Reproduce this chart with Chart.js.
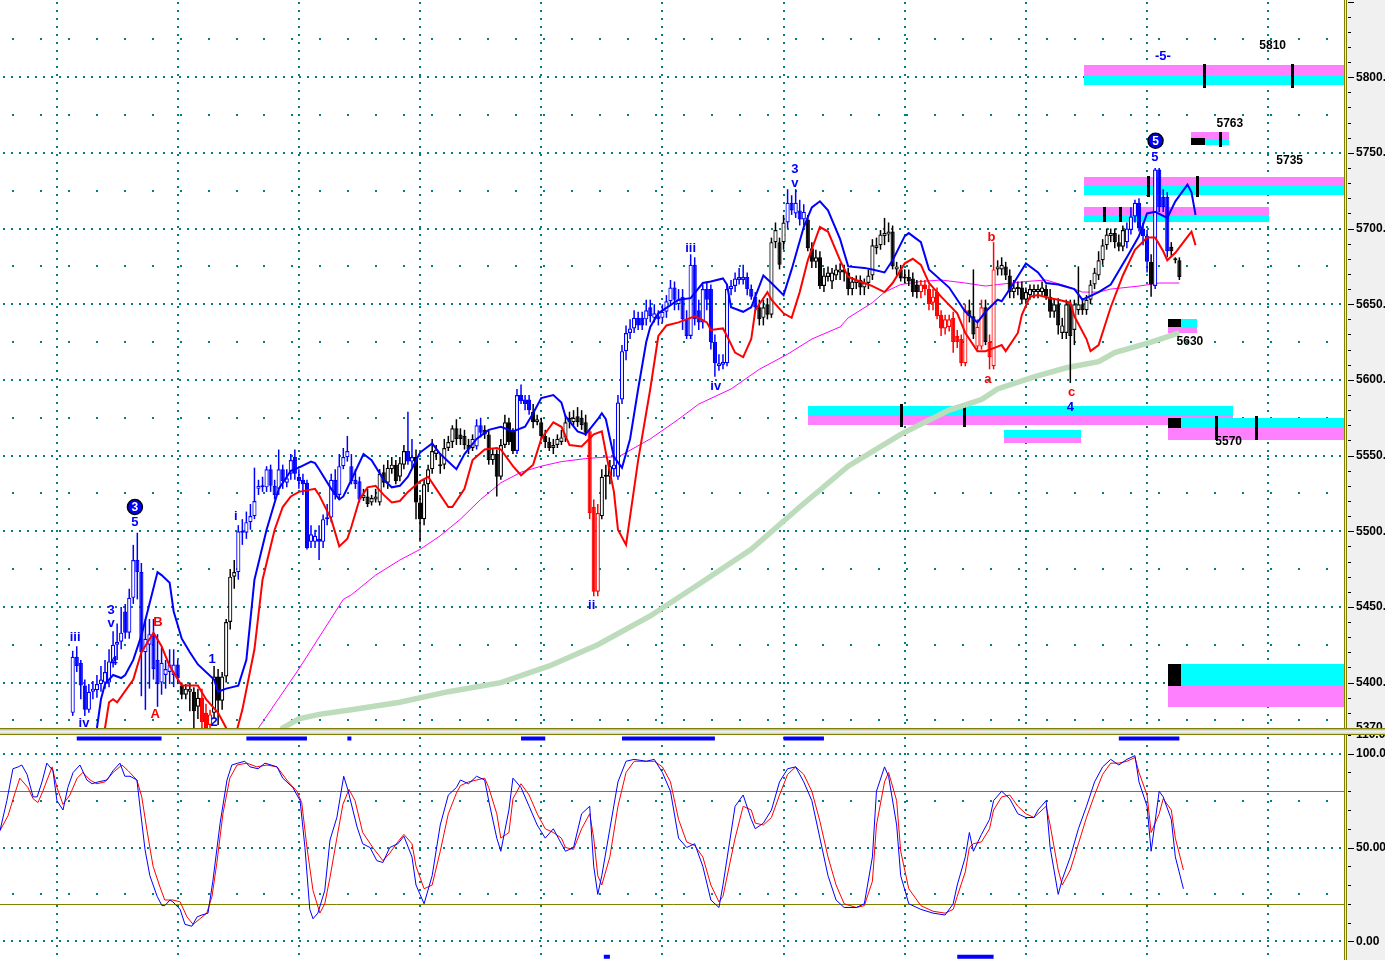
<!DOCTYPE html>
<html>
<head>
<meta charset="utf-8">
<script src="https://cdn.jsdelivr.net/npm/chart.js@4.4.1/dist/chart.umd.min.js"></script>
<style>
  html, body { margin: 0; padding: 0; background: #fff; overflow: hidden; }
  #wrap { position: relative; width: 1385px; height: 960px; }
  #priceChart { position: absolute; left: 0; top: 0; }
  #stochChart { position: absolute; left: 0; top: 735px; }
  .sep { position: absolute; left: 0; width: 1385px; }
</style>
</head>
<body>
<div id="wrap">
  <canvas id="priceChart" width="1385" height="728"></canvas>
  <div class="sep" style="top:728px;height:1px;background:#808000"></div>
  <div class="sep" style="top:729px;height:5px;background:linear-gradient(#a8a8a8,#f4f4f4 45%,#d0d0d0)"></div>
  <div class="sep" style="top:734px;height:1px;background:#808000"></div>
  <canvas id="stochChart" width="1385" height="225"></canvas>
</div>
<script>
// ---- price bars (first bar sits on slot 18, one slot per bar) ----
const FIRST_SLOT = 18;
const opens = [
  5380,5417,5413,5398,5382,5394,5395,5399,5400,5400, 5414,5425,5427,5447,5433,5456,5481,5473,5420,5425,
  5431,5415,5400,5405,5407,5405,5412,5398,5392,5394, 5394,5384,5390,5380,5372,5380,5404,5388,5404,5440,
  5470,5473,5499,5499,5506,5510,5528,5529,5529,5541, 5530,5528,5541,5532,5538,5549,5536,5534,5532,5493,
  5493,5495,5493,5508,5509,5534,5524,5543,5549,5543, 5534,5533,5522,5523,5519,5521,5519,5539,5532,5541,
  5544,5536,5544,5553,5546,5549,5519,5508,5531,5541, 5551,5544,5544,5555,5559,5568,5564,5563,5557,5555,
  5556,5570,5567,5564,5547,5551,5536,5557,5572,5566, 5553,5590,5587,5587,5579,5572,5572,5563,5559,5555,
  5557,5559,5562,5575,5572,5576,5575,5572,5566,5516, 5460,5510,5536,5536,5541,5536,5587,5619,5631,5634,
  5641,5641,5640,5648,5641,5642,5641,5645,5652,5661, 5650,5655,5640,5629,5676,5646,5638,5660,5660,5625,
  5609,5610,5611,5660,5662,5666,5666,5668,5660,5655, 5648,5641,5650,5643,5691,5691,5691,5704,5717,5710,
  5712,5706,5706,5687,5678,5681,5662,5668,5665,5669, 5671,5673,5671,5660,5664,5666,5661,5664,5669,5687,
  5689,5695,5696,5698,5673,5673,5667,5668,5667,5663, 5658,5663,5660,5651,5658,5643,5634,5635,5641,5629,
  5627,5611,5646,5642,5622,5622,5648,5625,5609,5673, 5673,5675,5669,5658,5660,5661,5653,5656,5658,5658,
  5658,5660,5655,5645,5650,5631,5631,5650,5633,5646, 5650,5646,5653,5663,5669,5679,5689,5695,5697,5691,
  5688,5691,5699,5708,5717,5700,5695,5678,5662,5739, 5721,5721,5688,5679,5679
];
const closes = [
  5417,5411,5398,5382,5394,5396,5399,5402,5407,5414, 5425,5427,5433,5433,5456,5481,5473,5420,5429,5432,
  5409,5399,5413,5409,5412,5412,5403,5392,5396,5396, 5381,5390,5374,5370,5379,5404,5388,5404,5440,5470,
  5473,5500,5500,5506,5510,5520,5530,5530,5541,5530, 5524,5541,5533,5535,5547,5538,5533,5531,5489,5498,
  5497,5493,5508,5509,5534,5524,5543,5549,5553,5533, 5531,5521,5524,5518,5522,5523,5538,5532,5542,5544,
  5533,5545,5553,5546,5549,5519,5508,5531,5541,5553, 5554,5543,5555,5559,5568,5561,5561,5557,5554,5561,
  5570,5565,5564,5547,5551,5536,5557,5572,5559,5553, 5590,5586,5584,5580,5572,5574,5563,5559,5555,5557,
  5561,5562,5572,5572,5575,5572,5570,5565,5512,5460, 5512,5536,5537,5543,5544,5585,5619,5631,5634,5641,
  5636,5636,5646,5642,5644,5640,5645,5652,5661,5653, 5653,5640,5629,5676,5640,5638,5660,5653,5625,5611,
  5611,5612,5660,5662,5667,5668,5668,5660,5655,5648, 5640,5648,5643,5691,5699,5676,5704,5717,5712,5717,
  5706,5711,5687,5678,5681,5662,5669,5671,5671,5673, 5673,5671,5660,5665,5666,5661,5664,5669,5689,5689,
  5696,5697,5698,5675,5675,5667,5668,5665,5658,5658, 5663,5660,5650,5655,5642,5634,5640,5640,5625,5625,
  5611,5646,5642,5630,5635,5648,5625,5615,5673,5675, 5676,5669,5658,5661,5661,5653,5658,5660,5660,5660,
  5661,5655,5645,5650,5636,5636,5650,5629,5650,5650, 5646,5653,5663,5671,5679,5689,5696,5697,5691,5688,
  5699,5700,5708,5717,5700,5695,5678,5663,5739,5714, 5714,5685,5685,5680,5668
];
const highs = [
  5421,5424,5415,5402,5399,5401,5405,5411,5415,5422, 5434,5439,5450,5452,5462,5491,5499,5479,5442,5442,
  5442,5432,5423,5415,5422,5422,5415,5400,5399,5400, 5397,5396,5396,5386,5382,5411,5409,5407,5442,5475,
  5481,5504,5508,5513,5518,5542,5534,5536,5543,5544, 5534,5554,5544,5541,5551,5554,5541,5538,5534,5504,
  5501,5504,5511,5518,5538,5541,5551,5555,5563,5551, 5541,5536,5528,5528,5524,5528,5541,5544,5547,5549,
  5547,5549,5557,5579,5561,5554,5524,5534,5544,5561, 5557,5551,5561,5563,5570,5574,5568,5567,5561,5564,
  5574,5575,5570,5567,5555,5554,5561,5577,5575,5568, 5594,5597,5590,5590,5584,5577,5575,5567,5562,5561,
  5564,5567,5577,5579,5580,5582,5580,5577,5568,5521, 5518,5541,5544,5547,5561,5590,5623,5636,5640,5646,
  5645,5645,5653,5653,5650,5646,5650,5656,5666,5665, 5660,5660,5646,5683,5681,5653,5663,5665,5663,5630,
  5617,5617,5663,5666,5671,5674,5676,5671,5663,5658, 5653,5653,5654,5694,5704,5694,5709,5726,5722,5726,
  5719,5716,5709,5691,5686,5685,5674,5675,5674,5676, 5677,5676,5674,5668,5669,5669,5667,5673,5693,5694,
  5699,5707,5704,5702,5678,5676,5673,5673,5671,5666, 5666,5666,5663,5660,5661,5646,5643,5643,5645,5633,
  5630,5650,5653,5673,5640,5653,5653,5630,5691,5679, 5681,5678,5673,5666,5665,5665,5661,5663,5663,5663,
  5665,5663,5660,5654,5654,5641,5653,5653,5653,5675, 5654,5656,5666,5674,5685,5693,5700,5700,5700,5696,
  5702,5704,5714,5719,5720,5704,5699,5683,5740,5740, 5726,5724,5691,5681,5681
];
const lows = [
  5378,5407,5389,5378,5380,5389,5390,5394,5396,5397, 5410,5415,5422,5429,5429,5452,5455,5391,5382,5396,
  5402,5384,5392,5396,5399,5397,5399,5389,5389,5381, 5369,5376,5369,5366,5366,5376,5372,5382,5400,5435,
  5462,5468,5491,5495,5501,5508,5524,5526,5526,5526, 5521,5524,5528,5529,5534,5534,5528,5524,5488,5489,
  5489,5481,5489,5504,5506,5521,5521,5541,5546,5531, 5528,5519,5520,5516,5517,5519,5517,5529,5528,5538,
  5531,5533,5541,5544,5542,5508,5493,5504,5526,5538, 5547,5538,5541,5553,5555,5557,5557,5554,5551,5553,
  5554,5562,5561,5544,5544,5523,5534,5555,5557,5551, 5551,5584,5580,5577,5568,5570,5561,5555,5553,5551,
  5555,5557,5559,5568,5570,5569,5567,5563,5508,5457, 5457,5508,5521,5531,5536,5534,5584,5613,5627,5631,
  5633,5633,5636,5638,5638,5636,5638,5641,5650,5646, 5646,5633,5627,5627,5636,5633,5634,5646,5620,5602,
  5606,5607,5609,5656,5658,5663,5663,5656,5653,5645, 5636,5636,5640,5641,5687,5673,5686,5700,5709,5707,
  5702,5702,5685,5674,5674,5660,5658,5665,5660,5666, 5666,5665,5656,5656,5660,5656,5656,5660,5666,5683,
  5686,5689,5691,5673,5669,5665,5664,5662,5655,5654, 5654,5656,5646,5646,5640,5629,5630,5632,5618,5621,
  5609,5609,5638,5627,5620,5620,5623,5607,5607,5669, 5669,5666,5654,5654,5656,5650,5650,5653,5654,5654,
  5656,5653,5641,5641,5630,5627,5627,5598,5623,5643, 5643,5643,5650,5660,5666,5676,5686,5691,5687,5685,
  5685,5687,5696,5704,5698,5689,5671,5655,5660,5711, 5711,5681,5682,5677,5666
];
// bar colour runs: [count, b=blue / k=black / r=red]
const colorRuns = [
  [27,'b'],[5,'k'],[3,'r'],[6,'k'],[31,'b'],[11,'k'],[2,'b'],[15,'k'],[2,'b'],[8,'k'],
  [4,'b'],[14,'k'],[3,'r'],[3,'k'],[36,'b'],[7,'k'],[5,'b'],[28,'k'],[12,'r'],[2,'k'],
  [2,'r'],[1,'k'],[2,'r'],[32,'k'],[6,'b'],[1,'k'],[4,'b'],[3,'k']
];

// ---- overlay lines: [slot, price] ----
const upperBand = [
  [23,5355],[24,5370],[25,5389],[26,5399],[27,5402],[28,5405],[30,5403],[31,5405],[33,5415],[35,5431],
  [37,5452],[39,5473],[40,5471],[42,5466],[43,5447],[45,5429],[47,5420],[49,5412],[53,5402],[54,5394],
  [56,5396],[59,5398],[61,5415],[63,5468],[66,5501],[69,5528],[72,5540],[74,5542],[77,5546],[78,5545],
  [79,5541],[82,5528],[84,5521],[85,5523],[87,5534],[90,5551],[92,5547],[95,5534],[97,5529],[99,5530],
  [101,5536],[104,5552],[107,5558],[109,5551],[113,5541],[115,5551],[118,5561],[121,5567],[124,5569],[127,5566],
  [130,5569],[132,5578],[134,5588],[137,5590],[139,5585],[140,5576],[143,5566],[145,5564],[148,5574],[149,5578],
  [150,5574],[152,5549],[154,5542],[156,5561],[158,5594],[160,5625],[161,5635],[163,5644],[168,5653],[171,5654],
  [174,5664],[176,5665],[179,5667],[180,5663],[181,5648],[184,5645],[186,5648],[189,5669],[191,5664],[194,5656],
  [196,5673],[199,5701],[201,5714],[203,5718],[205,5712],[208,5693],[210,5675],[214,5674],[216,5673],[219,5671],
  [221,5679],[224,5695],[225,5697],[228,5691],[230,5673],[235,5661],[239,5645],[242,5638],[244,5645],[247,5653],
  [248,5652],[251,5664],[254,5677],[257,5671],[259,5664],[262,5663],[266,5660],[268,5653],[272,5658],[275,5663],
  [279,5681],[282,5695],[284,5710],[286,5711],[289,5707],[291,5718],[294,5729],[295,5724],[296,5709]
];
const lowerBand = [
  [25,5355],[26,5370],[27,5387],[28,5389],[29,5387],[33,5402],[35,5420],[38,5433],[40,5424],[42,5411],
  [45,5398],[49,5398],[51,5389],[54,5380],[56,5370],[58,5362],[60,5382],[63,5422],[65,5468],[68,5501],
  [70,5516],[72,5523],[74,5526],[78,5528],[79,5524],[82,5508],[84,5490],[86,5495],[87,5503],[89,5521],
  [91,5529],[93,5530],[95,5524],[97,5519],[99,5520],[101,5526],[104,5533],[106,5536],[108,5528],[111,5516],
  [112,5516],[115,5528],[117,5547],[120,5554],[123,5555],[124,5554],[127,5543],[129,5537],[132,5544],[134,5561],
  [137,5572],[139,5569],[141,5557],[144,5556],[147,5564],[149,5566],[150,5552],[152,5526],[153,5501],[155,5491],
  [158,5547],[161,5594],[163,5629],[165,5636],[168,5638],[172,5642],[173,5641],[175,5638],[176,5633],[179,5634],
  [180,5629],[182,5618],[184,5615],[186,5627],[187,5646],[190,5658],[191,5653],[194,5644],[196,5641],[198,5658],
  [200,5679],[203,5701],[205,5698],[208,5679],[210,5668],[214,5664],[216,5662],[219,5658],[221,5664],[224,5677],
  [226,5680],[228,5676],[230,5664],[233,5655],[237,5644],[239,5631],[242,5619],[244,5619],[247,5622],[248,5623],
  [249,5619],[252,5631],[253,5643],[255,5655],[257,5656],[260,5654],[262,5653],[265,5651],[266,5642],[269,5627],
  [270,5619],[272,5623],[275,5648],[278,5669],[281,5686],[284,5694],[286,5694],[288,5685],[289,5679],[291,5684],
  [293,5691],[295,5698],[296,5689]
];
const shortAverage = [
  [62,5360],[64,5370],[74,5409],[85,5455],[87,5458],[93,5471],[99,5481],[104,5488],[109,5497],[114,5508],
  [119,5521],[124,5532],[129,5539],[134,5543],[139,5546],[145,5548],[150,5549],[153,5549],[161,5561],[168,5574],
  [173,5584],[181,5594],[188,5607],[195,5617],[201,5627],[208,5635],[210,5641],[216,5651],[219,5658],[223,5663],
  [228,5665],[233,5666],[239,5664],[244,5662],[247,5663],[254,5665],[259,5666],[264,5662],[268,5658],[272,5658],
  [275,5660],[282,5662],[287,5664],[292,5664]
];
const longAverage = [
  [69,5365],[70,5370],[74,5376],[79,5379],[87,5382],[99,5387],[111,5394],[124,5400],[136,5411],[148,5425],
  [161,5444],[173,5465],[186,5488],[198,5516],[210,5543],[223,5564],[235,5580],[243,5587],[247,5594],[256,5602],
  [264,5608],[272,5612],[276,5618],[285,5625],[292,5631]
];

// ---- projection zones: [fromSlot, toSlot, high, mid, low, top colour m/c] ----
const zones = [
  [268.3,333.5,5808,5801,5795,'m'],
  [295.0,304.2,5764,5759,5755,'m'],
  [268.3,333.5,5734,5728,5722,'m'],
  [268.3,314.1,5714,5709,5704,'m'],
  [289.1,296.3,5640,5635,5631,'c'],
  [200.0,305.2,5583,5576,5570,'c'],
  [248.5,267.6,5567,5562,5558,'c'],
  [289.1,333.5,5575,5568,5560,'c'],
  [289.1,333.5,5412,5398,5384,'c']
];
const zoneBlocks = [[295.0,298.3,5755,5760],[289.1,292.3,5635,5640],[289.1,292.3,5568,5575],[289.1,292.3,5398,5412]];
const zoneMarks = [
  [298.0,5793,5809],[319.8,5793,5809],[302.0,5754,5764],[284.2,5721,5735],[296.3,5721,5735],
  [273.3,5704,5714],[277.2,5704,5714],[223.0,5569,5584],[238.6,5569,5584],[301.0,5560,5576],[310.9,5560,5576]
];
const targetLabels = [['5810',315.1,5821],['5763',304.5,5769],['5735',319.3,5745],['5630',294.6,5625],['5570',304.2,5559]];
const waveLabels = [
  ['iii',18.6,5430,'b'],['iv',20.8,5373,'b'],['3',27.5,5448,'b'],['v',27.5,5439,'b'],['4',28.2,5414,'b'],
  ['5',33.4,5506,'b'],['B',39.1,5440,'r'],['A',38.4,5379,'r'],['1',52.5,5415,'b'],['2',53,5374,'b'],
  ['i',58.4,5510,'b'],['ii',146.5,5451,'b'],['iii',171,5687,'b'],['iv',177.2,5596,'b'],['3',196.8,5739,'b'],
  ['v',196.8,5730,'b'],['b',245.5,5694,'r'],['a',244.6,5600,'r'],['c',265.3,5592,'r'],['4',265,5582,'b'],
  ['5',285.9,5747,'b'],['-5-',287.9,5814,'b']
];
const circledLabels = [['3',33.4,5516],['5',286.1,5758]];

// ---- stochastic: [slot, value] ----
const stochK = [
  [0,59],[1.7,75],[3.2,92],[4.5,93],[5.4,94],[6.7,89],[8.2,77],[9.2,77],[10.4,85],[11.6,95],
  [13.1,91],[14.1,75],[15.6,70],[16.8,82],[18.1,90],[19.8,94],[21.5,86],[22.8,84],[24.3,85],[26.5,86],
  [28,91],[29.7,95],[30.9,88],[32.2,88],[33.9,86],[34.7,71],[35.9,49],[37.1,35],[38.9,24],[40.1,19],
  [40.8,19],[42.1,22],[42.8,21],[44.6,17],[45.8,9],[47.5,8],[48.8,13],[50,14],[51.5,15],[52.7,32],
  [54.5,63],[56.2,86],[57.4,94],[58.9,95],[60.6,96],[61.9,93],[63.9,92],[65.6,95],[68.6,93],[70,87],
  [72.5,82],[74.3,75],[75.5,50],[76.7,17],[77.5,12],[78.7,15],[80.4,27],[81.7,54],[83.4,66],[85.1,88],
  [86.1,81],[88.4,61],[89.8,52],[91.6,50],[93.3,43],[94.8,42],[96.5,50],[98.5,52],[100,56],[102,45],
  [103,30],[105,20],[107,35],[109,62],[111,78],[113,82],[114,86],[116,84],[118,88],[120,86],
  [121,75],[123,55],[124,48],[126,70],[127,87],[129,82],[131,72],[133,62],[135,55],[137,60],
  [139,52],[140,48],[142,50],[144,68],[146,72],[147,40],[148,25],[149,35],[151,60],[153,85],
  [155,96],[157,97],[160,96],[162,97],[164,90],[166,80],[168,55],[170,50],[172,52],[174,40],
  [176,22],[178,18],[179,30],[182,72],[184,78],[186,65],[187,60],[189,63],[191,70],[193,85],
  [195,92],[197,93],[199,85],[201,75],[203,55],[205,35],[207,22],[209,18],[212,18],[214,20],
  [216,45],[217,80],[219,93],[220,88],[222,62],[223,35],[225,20],[228,17],[231,15],[234,14],
  [236,20],[237,30],[239,45],[240,58],[241,48],[243,57],[245,65],[246,75],[248,80],[250,76],
  [252,68],[254,66],[256,66],[257,70],[259,75],[260,50],[262,25],[263,33],[265,45],[267,60],
  [269,72],[271,85],[273,93],[275,97],[277,94],[279,97],[281,99],[282,85],[284,72],[285,48],
  [287,80],[288,77],[290,65],[291,45],[293,28]
];
const stochD = [
  [0,59],[2,67],[3.7,79],[4.9,87],[6.9,82],[8.2,76],[9.4,74],[10.6,80],[12.9,93],[14.1,82],
  [15.6,73],[17.3,78],[19.1,87],[20.5,90],[22.3,86],[24,84],[26,85],[28,90],[30.2,94],[31.7,91],
  [33.9,86],[35.1,77],[36.4,59],[37.9,40],[39.6,29],[40.8,22],[42.8,22],[44.6,21],[46.3,13],[47.8,9],
  [49.5,12],[51.2,15],[52.5,24],[53.7,42],[55.2,68],[56.9,87],[58.7,94],[61.1,95],[63.6,93],[66.1,94],
  [68.6,93],[71,86],[73.5,80],[74.7,74],[76,50],[77.5,27],[79.2,15],[80.4,20],[81.7,34],[83.4,55],
  [84.9,73],[86.4,81],[87.9,75],[89.8,58],[92.3,50],[94.8,43],[96.5,47],[98.5,53],[100,57],[102,52],
  [103,40],[105,28],[107,30],[109,48],[111,68],[113,79],[114,83],[116,85],[118,86],[120,87],
  [121,82],[123,68],[124,55],[126,58],[127,76],[129,84],[131,78],[133,68],[135,60],[137,58],
  [139,55],[140,50],[142,49],[144,60],[146,68],[147,55],[148,35],[149,30],[151,45],[153,72],
  [155,90],[157,96],[160,96],[162,96],[164,93],[166,85],[168,65],[170,53],[172,51],[174,45],
  [176,30],[178,21],[179,24],[182,55],[184,72],[186,70],[187,63],[189,62],[191,66],[193,78],
  [195,89],[197,93],[199,89],[201,80],[203,64],[205,45],[207,30],[209,20],[212,18],[214,19],
  [216,32],[217,62],[219,85],[220,90],[222,75],[223,48],[225,28],[228,19],[231,16],[234,15],
  [236,17],[237,24],[239,37],[240,50],[241,52],[243,53],[245,60],[246,70],[248,77],[250,78],
  [252,72],[254,68],[256,66],[257,68],[259,72],[260,62],[262,38],[263,30],[265,38],[267,52],
  [269,66],[271,78],[273,89],[275,95],[277,95],[279,96],[281,98],[282,90],[284,78],[285,58],
  [287,68],[288,76],[290,70],[291,55],[293,38]
];
// signal strips along the top / bottom of the oscillator: [fromSlot, toSlot]
const signalTop = [[19,40],[61,76],[86,87],[129,135],[154,177],[194,204],[277,292]];
const signalBottom = [[149.5,151],[237,246]];

// ---- look ----
const X_MAX = 333.5;
const BLUE = '#0000ff', RED = '#ff0000', BLACK = '#000000';
const MAGENTA = '#ff80ff', CYAN = '#00ffff', OLIVE = '#808000', GRID = '#008080';
const FONT = '"Liberation Sans", Arial, sans-serif';
const sessionStarts = [14, 44, 74, 104, 134, 164, 194, 224, 254, 284, 314];

const colorOf = { b: BLUE, k: BLACK, r: RED };
const barColors = [];
colorRuns.forEach(([n, c]) => { for (let i = 0; i < n; i++) barColors.push(colorOf[c]); });

const toXY = arr => arr.map(([x, y]) => ({ x, y }));
function strip(segs, level) {
  const out = [];
  segs.forEach(([a, b]) => { out.push({ x: a, y: level }, { x: b, y: level }, { x: b, y: null }); });
  return out;
}

function rightAxis(min, max, ticks) {
  return {
    type: 'linear', position: 'right', min, max,
    afterBuildTicks: s => { s.ticks = ticks.map(v => ({ value: v })); },
    afterFit: s => { s.width = 38; s.paddingTop = 0; s.paddingBottom = 0; },
    grid: { display: false, drawTicks: false },
    border: { display: false },
    ticks: {
      autoSkip: false, padding: 9, color: BLACK,
      font: { family: FONT, size: 12, weight: 'bold' },
      callback: v => Number(v).toFixed(2)
    }
  };
}

// grid dots, zones, labels, tick marks
function panelPlugin(cfg) {
  return {
    id: 'panel',
    beforeDraw(chart) {
      const { ctx, chartArea: a, width, height } = chart;
      ctx.save();
      ctx.fillStyle = '#ffffff';
      ctx.fillRect(0, 0, a.right, height);
      ctx.fillStyle = '#f0f0f0';
      ctx.fillRect(a.right, 0, width - a.right, height);
      ctx.restore();
    },
    beforeDatasetsDraw(chart) {
      const { ctx, chartArea: a, scales: { x, y } } = chart;
      ctx.save();
      ctx.beginPath();
      ctx.rect(a.left, a.top, a.width, a.height);
      ctx.clip();
      ctx.fillStyle = GRID;
      cfg.majorRows.forEach(v => {
        const py = Math.round(y.getPixelForValue(v)) - 1;
        for (let px = 3; px < a.right - 3; px += 8) ctx.fillRect(px, py, 2, 2);
      });
      sessionStarts.forEach(v => {
        const px = Math.round(x.getPixelForValue(v)) - 1;
        for (let py = a.top + 2; py < a.bottom; py += 8) ctx.fillRect(px, py, 2, 2);
      });
      cfg.minorRows.forEach(v => {
        const py = Math.round(y.getPixelForValue(v)) - 1;
        for (let c = 3.2; c < X_MAX - 1; c += 6.92) ctx.fillRect(Math.round(x.getPixelForValue(c)) - 1, py, 2, 2);
      });
      if (cfg.levels) {
        ctx.strokeStyle = OLIVE;
        ctx.lineWidth = 1;
        cfg.levels.forEach(v => {
          const py = Math.round(y.getPixelForValue(v)) + 0.5;
          ctx.beginPath(); ctx.moveTo(a.left, py); ctx.lineTo(a.right, py); ctx.stroke();
        });
      }
      if (cfg.zones) {
        const px = v => Math.round(x.getPixelForValue(v));
        const py = v => Math.round(y.getPixelForValue(v));
        zones.forEach(([x0, x1, hi, mid, lo, top]) => {
          ctx.fillStyle = top === 'm' ? MAGENTA : CYAN;
          ctx.fillRect(px(x0), py(hi), px(x1) - px(x0), py(mid) - py(hi));
          ctx.fillStyle = top === 'm' ? CYAN : MAGENTA;
          ctx.fillRect(px(x0), py(mid), px(x1) - px(x0), py(lo) - py(mid));
        });
        ctx.fillStyle = BLACK;
        zoneBlocks.forEach(([x0, x1, lo, hi]) => ctx.fillRect(px(x0), py(hi), px(x1) - px(x0), py(lo) - py(hi)));
        zoneMarks.forEach(([s, lo, hi]) => ctx.fillRect(px(s) - 1, py(hi), 3, py(lo) - py(hi)));
      }
      ctx.restore();
    },
    afterDatasetsDraw(chart) {
      if (!cfg.labels) return;
      const { ctx, scales: { x, y } } = chart;
      ctx.save();
      ctx.textAlign = 'center';
      ctx.textBaseline = 'middle';
      ctx.font = 'bold 13px ' + FONT;
      waveLabels.forEach(([t, s, p, c]) => {
        ctx.fillStyle = c === 'r' ? RED : BLUE;
        ctx.fillText(t, x.getPixelForValue(s), y.getPixelForValue(p));
      });
      ctx.font = 'bold 12px ' + FONT;
      circledLabels.forEach(([t, s, p]) => {
        const cx = x.getPixelForValue(s), cy = y.getPixelForValue(p);
        ctx.beginPath(); ctx.arc(cx, cy, 7.5, 0, Math.PI * 2);
        ctx.fillStyle = BLUE; ctx.fill();
        ctx.strokeStyle = BLACK; ctx.lineWidth = 1.5; ctx.stroke();
        ctx.fillStyle = '#ffffff';
        ctx.fillText(t, cx, cy + 0.5);
      });
      ctx.fillStyle = BLACK;
      targetLabels.forEach(([t, s, p]) => ctx.fillText(t, x.getPixelForValue(s), y.getPixelForValue(p)));
      ctx.restore();
    },
    afterDraw(chart) {
      const { ctx, chartArea: a, scales: { y } } = chart;
      ctx.save();
      ctx.fillStyle = OLIVE;
      ctx.fillRect(a.right - 3, 0, 1, chart.height);
      ctx.fillRect(a.right - 1, 0, 1, chart.height);
      ctx.fillStyle = '#e8e8e8';
      ctx.fillRect(a.right - 2, 0, 1, chart.height);
      ctx.fillStyle = BLACK;
      for (let v = cfg.tickFrom; v <= cfg.tickTo; v += cfg.tickStep) {
        const py = Math.round(y.getPixelForValue(v));
        const len = v % cfg.tickMajor === 0 ? 6 : 3;
        ctx.fillRect(a.right + 1, py, len, 1);
      }
      ctx.restore();
    }
  };
}

const rows = (from, to, step) => { const r = []; for (let v = from; v <= to; v += step) r.push(v); return r; };

// ---- price panel ----
new Chart(document.getElementById('priceChart'), {
  type: 'bar',
  data: {
    datasets: [
      { type: 'line', data: toXY(upperBand), borderColor: BLUE, borderWidth: 2, pointRadius: 0, order: 1 },
      { type: 'line', data: toXY(lowerBand), borderColor: RED, borderWidth: 2, pointRadius: 0, order: 2 },
      {
        data: opens.map((o, i) => ({ x: FIRST_SLOT + i, y: [Math.min(o, closes[i]), Math.max(o, closes[i])] })),
        backgroundColor: opens.map((o, i) => closes[i] >= o ? '#ffffff' : barColors[i]),
        borderColor: barColors, borderWidth: 1.2, borderSkipped: false,
        barThickness: 4.2, minBarLength: 2, grouped: false, inflateAmount: 0, order: 7
      },
      {
        data: highs.map((h, i) => ({ x: FIRST_SLOT + i, y: [lows[i], h] })),
        backgroundColor: barColors, borderWidth: 0,
        barThickness: 1.5, grouped: false, inflateAmount: 0, order: 8
      },
      { type: 'line', data: toXY(shortAverage), borderColor: '#ff00ff', borderWidth: 1, pointRadius: 0, order: 9 },
      { type: 'line', data: toXY(longAverage), borderColor: '#bcdcbc', borderWidth: 5.5, pointRadius: 0, order: 10 }
    ]
  },
  options: {
    responsive: false, animation: false, events: [],
    layout: { padding: 0 },
    plugins: { legend: { display: false }, tooltip: { enabled: false } },
    scales: {
      x: { type: 'linear', min: 0, max: X_MAX, display: false, offset: false },
      y: rightAxis(5370, 5851, [5370, 5400, 5450, 5500, 5550, 5600, 5650, 5700, 5750, 5800])
    }
  },
  plugins: [panelPlugin({
    majorRows: rows(5400, 5800, 50), minorRows: rows(5375, 5825, 50),
    zones: true, labels: true, tickFrom: 5370, tickTo: 5850, tickStep: 10, tickMajor: 50
  })]
});

// ---- stochastic panel ----
new Chart(document.getElementById('stochChart'), {
  type: 'line',
  data: {
    datasets: [
      { data: toXY(stochK), borderColor: BLUE, borderWidth: 1, pointRadius: 0 },
      { data: toXY(stochD), borderColor: RED, borderWidth: 1, pointRadius: 0 },
      { data: strip(signalTop, 108.2), borderColor: BLUE, borderWidth: 4, pointRadius: 0, borderCapStyle: 'butt' },
      { data: strip(signalBottom, -8.2), borderColor: BLUE, borderWidth: 4, pointRadius: 0, borderCapStyle: 'butt' }
    ]
  },
  options: {
    responsive: false, animation: false, events: [],
    layout: { padding: 0 },
    plugins: { legend: { display: false }, tooltip: { enabled: false } },
    scales: {
      x: { type: 'linear', min: 0, max: X_MAX, display: false, offset: false },
      y: rightAxis(-10, 110, [0, 50, 100, 110])
    }
  },
  plugins: [panelPlugin({
    majorRows: [0, 50, 100], minorRows: [25, 75], levels: [20, 80],
    tickFrom: -10, tickTo: 110, tickStep: 10, tickMajor: 50
  })]
});
</script>
</body>
</html>
